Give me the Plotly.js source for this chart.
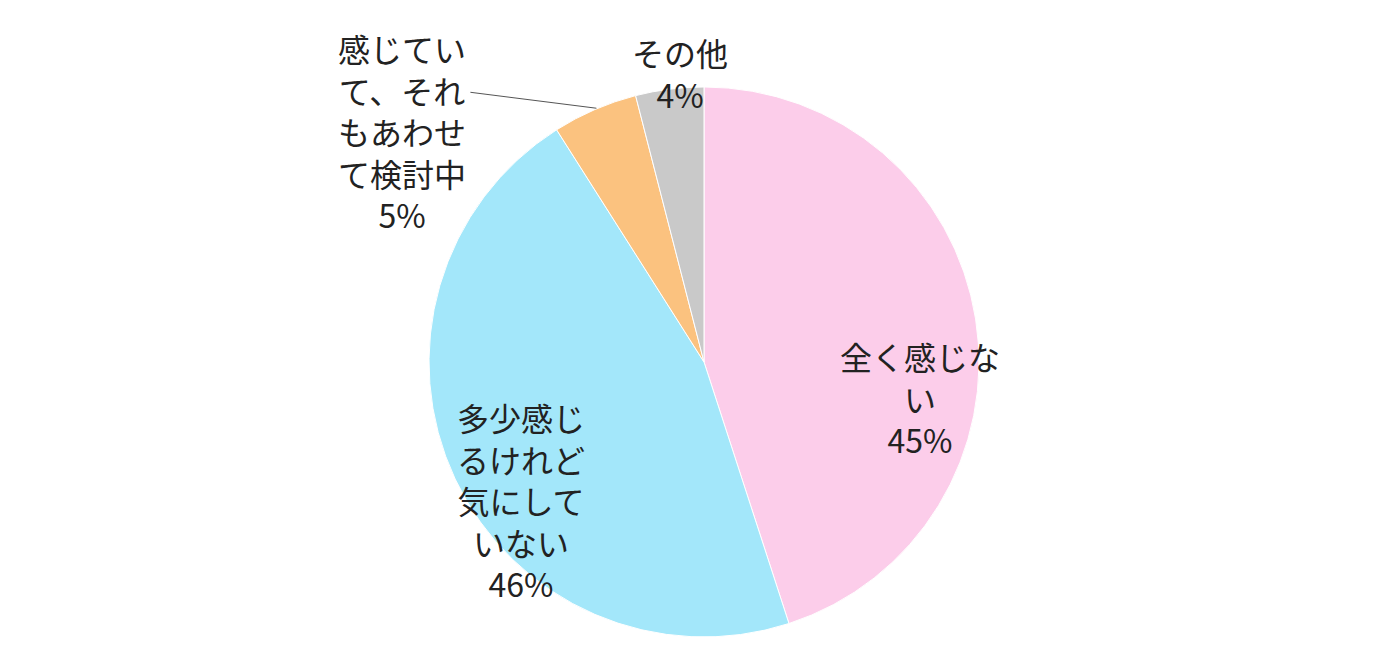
<!DOCTYPE html>
<html>
<head>
<meta charset="utf-8">
<script src="https://cdn.plot.ly/plotly-3.0.1.min.js"></script>
<style>
  html, body { margin: 0; padding: 0; background: #fff; }
  #chart { width: 1400px; height: 664px; }
</style>
</head>
<body>
<div id="chart"></div>
<script>
var categories = ['全く感じない', '多少感じるけれど気にしていない', '感じていて、それもあわせて検討中', 'その他'];
var shares = [45, 46, 5, 4];
var labelLines = ['全く感じな<br>い', '多少感じ<br>るけれど<br>気にして<br>いない', '感じてい<br>て、それ<br>もあわせ<br>て検討中', 'その他'];
var sliceColors = ['#fccdea', '#a3e7fa', '#fbc27f', '#c9c9c9'];

// where each label block sits (paper coords), same order as categories
var labelX = [0.657, 0.372, 0.287, 0.486];
var labelY = [0.402, 0.247, 0.803, 0.890];

var font = '"Noto Sans CJK JP", "Noto Sans", sans-serif';

var trace1 = {
  type: 'pie',
  labels: categories,
  values: shares,
  textinfo: 'none',
  sort: false,
  direction: 'clockwise',
  rotation: 0,
  marker: { colors: sliceColors, line: { color: '#ffffff', width: 1 } },
  domain: { x: [0.3064, 0.6993], y: [0.0407, 0.869] },
  hoverinfo: 'label+percent'
};

var annotations = categories.map(function (c, i) {
  return {
    xref: 'paper', yref: 'paper',
    x: labelX[i], y: labelY[i],
    xanchor: 'center', yanchor: 'middle',
    text: labelLines[i] + '<br>' + shares[i] + '%',
    showarrow: false, align: 'center',
    font: { family: font, size: 32, color: '#222222' }
  };
});

var layout = {
  width: 1400,
  height: 664,
  margin: { l: 0, r: 0, t: 0, b: 0 },
  paper_bgcolor: '#ffffff',
  showlegend: false,
  annotations: annotations,
  // leader line for the 5% label
  shapes: [
    {
      type: 'line', xref: 'paper', yref: 'paper',
      x0: 0.336, y0: 0.861, x1: 0.426, y1: 0.837,
      line: { color: '#555555', width: 1 }
    }
  ]
};

Plotly.newPlot('chart', [trace1], layout, { displayModeBar: false });
</script>
</body>
</html>
